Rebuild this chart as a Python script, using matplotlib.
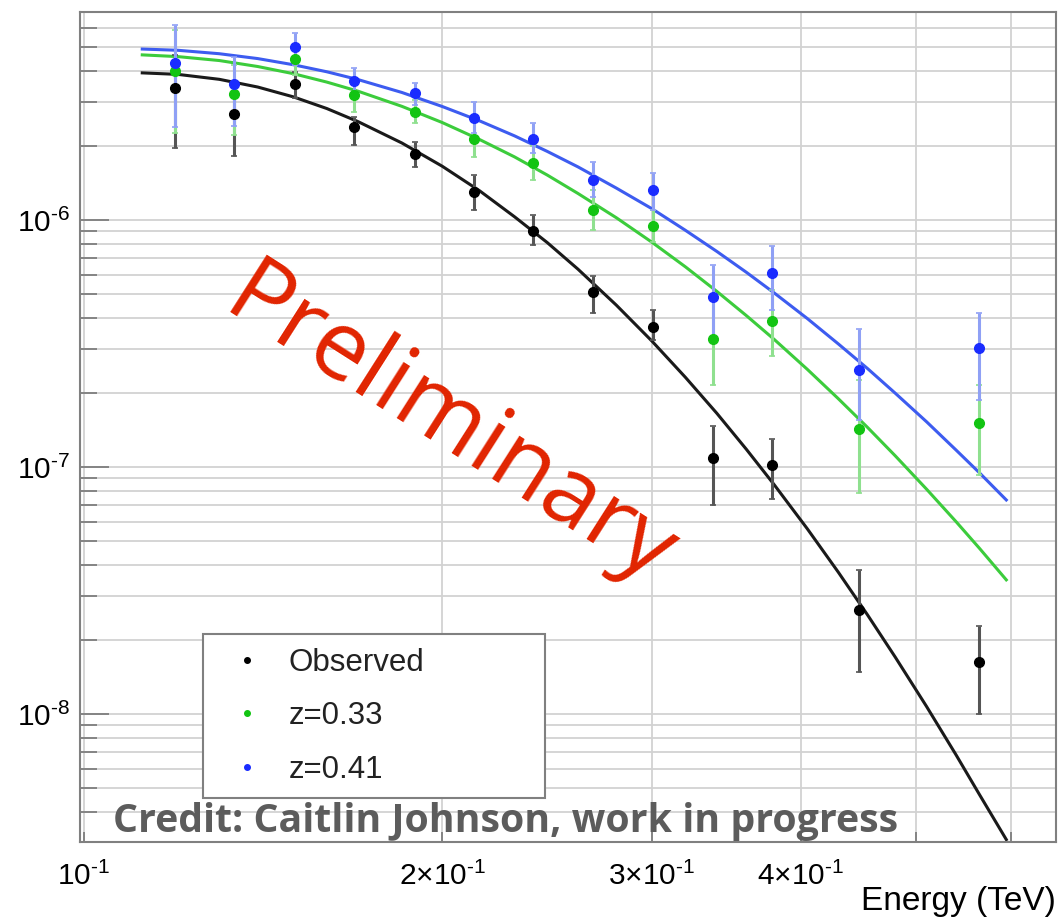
import numpy as np
import matplotlib.pyplot as plt
from matplotlib.lines import Line2D
from matplotlib.ticker import FixedLocator, FixedFormatter, NullFormatter, LogLocator, FuncFormatter

# bin energies (TeV)
energy = [0.1192, 0.1338, 0.1504, 0.1686, 0.1896, 0.2125, 0.2385,
          0.2677, 0.3005, 0.3373, 0.3786, 0.4478, 0.5642]

# observed spectrum with lower / upper error bar ends
obs_flux = [3.42e-6, 2.69e-6, 3.55e-6, 2.38e-6, 1.85e-6, 1.30e-6, 9.03e-7,
            5.11e-7, 3.69e-7, 1.09e-7, 1.02e-7, 2.64e-8, 1.62e-8]
obs_lo = [1.96e-6, 1.82e-6, 3.12e-6, 2.01e-6, 1.64e-6, 1.10e-6, 7.92e-7,
          4.20e-7, 3.27e-7, 7.02e-8, 7.42e-8, 1.48e-8, 1.00e-8]
obs_hi = [4.66e-6, 3.52e-6, 3.97e-6, 2.61e-6, 2.07e-6, 1.52e-6, 1.05e-6,
          5.93e-7, 4.32e-7, 1.47e-7, 1.30e-7, 3.83e-8, 2.27e-8]

# deabsorbed, z=0.33
z033_flux = [4.01e-6, 3.24e-6, 4.49e-6, 3.21e-6, 2.74e-6, 2.13e-6, 1.70e-6,
             1.10e-6, 9.46e-7, 3.30e-7, 3.90e-7, 1.43e-7, 1.51e-7]
z033_lo = [2.25e-6, 2.21e-6, 3.86e-6, 2.74e-6, 2.47e-6, 1.80e-6, 1.45e-6,
           9.11e-7, 8.15e-7, 2.15e-7, 2.81e-7, 7.85e-8, 9.29e-8]
z033_hi = [5.88e-6, 4.24e-6, 5.11e-6, 3.69e-6, 3.06e-6, 2.49e-6, 1.99e-6,
           1.32e-6, 1.10e-6, 4.74e-7, 5.21e-7, 2.25e-7, 2.15e-7]

# deabsorbed, z=0.41
z041_flux = [4.32e-6, 3.55e-6, 5.01e-6, 3.65e-6, 3.27e-6, 2.59e-6, 2.13e-6,
             1.45e-6, 1.32e-6, 4.88e-7, 6.10e-7, 2.47e-7, 3.03e-7]
z041_lo = [2.38e-6, 2.40e-6, 4.24e-6, 3.15e-6, 2.92e-6, 2.25e-6, 1.87e-6,
           1.24e-6, 1.10e-6, 3.27e-7, 4.32e-7, 1.55e-7, 1.87e-7]
z041_hi = [6.16e-6, 4.57e-6, 5.71e-6, 4.12e-6, 3.59e-6, 3.00e-6, 2.47e-6,
           1.72e-6, 1.55e-6, 6.57e-7, 7.85e-7, 3.62e-7, 4.20e-7]

# fitted spectra, sampled along energy
fit_energy = [0.112, 0.12, 0.13, 0.14, 0.15, 0.16, 0.17, 0.185, 0.20, 0.215,
              0.23, 0.245, 0.26, 0.28, 0.30, 0.32, 0.34, 0.36, 0.38, 0.405,
              0.43, 0.455, 0.48, 0.51, 0.54, 0.565, 0.595]
obs_fit = [3.94e-6, 3.885e-6, 3.71e-6, 3.453e-6, 3.15e-6, 2.826e-6, 2.50e-6,
           2.049e-6, 1.65e-6, 1.312e-6, 1.03e-6, 8.10e-7, 6.32e-7, 4.52e-7,
           3.23e-7, 2.306e-7, 1.65e-7, 1.179e-7, 8.46e-8, 5.62e-8, 3.75e-8,
           2.518e-8, 1.70e-8, 1.072e-8, 6.82e-9, 4.71e-9, 3.10e-9]
z033_fit = [4.66e-6, 4.585e-6, 4.42e-6, 4.181e-6, 3.91e-6, 3.616e-6, 3.32e-6,
            2.884e-6, 2.48e-6, 2.116e-6, 1.80e-6, 1.520e-6, 1.28e-6, 1.021e-6,
            8.12e-7, 6.46e-7, 5.14e-7, 4.10e-7, 3.28e-7, 2.485e-7, 1.89e-7,
            1.446e-7, 1.11e-7, 8.13e-8, 6.00e-8, 4.68e-8, 3.49e-8]
z041_fit = [4.92e-6, 4.864e-6, 4.71e-6, 4.502e-6, 4.25e-6, 3.981e-6, 3.70e-6,
            3.282e-6, 2.88e-6, 2.518e-6, 2.19e-6, 1.895e-6, 1.64e-6, 1.346e-6,
            1.11e-6, 9.08e-7, 7.46e-7, 6.14e-7, 5.06e-7, 3.99e-7, 3.15e-7,
            2.503e-7, 1.99e-7, 1.524e-7, 1.17e-7, 9.46e-8, 7.35e-8]

labels = ['Observed', 'z=0.33', 'z=0.41']
x_tick_vals = [0.1, 0.2, 0.3, 0.4]
x_tick_text = [r'$10^{\text{-}1}$', r'$2{\times}10^{\text{-}1}$',
               r'$3{\times}10^{\text{-}1}$', r'$4{\times}10^{\text{-}1}$']

plt.rcParams['font.family'] = ['Liberation Sans', 'DejaVu Sans']
plt.rcParams['mathtext.fontset'] = 'custom'
plt.rcParams['mathtext.rm'] = 'Liberation Sans'
plt.rcParams['mathtext.it'] = 'Liberation Sans:italic'
plt.rcParams['mathtext.bf'] = 'Liberation Sans:bold'

W, H = 1058, 918
fig = plt.figure(figsize=(W / 100, H / 100), dpi=100)
ax = fig.add_axes([80 / W, 1 - 842 / H, 976 / W, 830 / H])
ax.set_xscale('log')
ax.set_yscale('log')
ax.set_xlim(0.0993, 0.655)
ax.set_ylim(3.03e-9, 6.95e-6)

# grid + ticks, ROOT style
ax.xaxis.set_major_locator(FixedLocator(x_tick_vals))
ax.xaxis.set_major_formatter(FixedFormatter(x_tick_text))
ax.xaxis.set_minor_locator(FixedLocator([0.5, 0.6]))
ax.xaxis.set_minor_formatter(NullFormatter())
ax.yaxis.set_major_locator(LogLocator(base=10))
ax.yaxis.set_minor_locator(LogLocator(base=10, subs=np.arange(2, 10)))
ax.yaxis.set_major_formatter(FuncFormatter(
    lambda v, p: r'$10^{\text{-}%d}$' % abs(int(round(np.log10(v))))))
ax.yaxis.set_minor_formatter(NullFormatter())
ax.grid(which='both', color='#d2d2d2', lw=1.3, zorder=0)
ax.set_axisbelow(True)
ax.tick_params(axis='y', which='major', direction='in', length=21, width=1.2, color='#777777',
               labelsize=21.5, pad=7)
ax.tick_params(axis='y', which='minor', direction='in', length=12, width=1.2, color='#777777')
ax.tick_params(axis='x', which='both', direction='in', length=7, width=1.2, color='#777777',
               labelsize=21.5, pad=14)
for s in ax.spines.values():
    s.set_color('#808080')
    s.set_linewidth(1.5)

series = [
    (obs_flux, obs_lo, obs_hi, obs_fit, 'black', '#555555', '#1a1a1a'),
    (z033_flux, z033_lo, z033_hi, z033_fit, '#12c412', '#8fe08f', '#3ccc3c'),
    (z041_flux, z041_lo, z041_hi, z041_fit, '#1a2cff', '#8fa0f5', '#3d5cf0'),
]
for flux, lo, hi, fit, mcol, ecol, lcol in series:
    flux = np.array(flux)
    yerr = [flux - np.array(lo), np.array(hi) - flux]
    ax.plot(fit_energy, fit, color=lcol, lw=2.2, zorder=2)
    ax.errorbar(energy, flux, yerr=yerr, fmt='o', ms=7, mfc=mcol, mec=mcol,
                ecolor=ecol, elinewidth=2.2, capsize=2, capthick=1.2, zorder=3)

handles = [Line2D([], [], ls='none', marker='o', ms=4, color=s[4]) for s in series]
leg = ax.legend(handles, labels, loc='upper left', mode='expand',
                bbox_to_anchor=(203 / W, 1 - 792 / H, 342 / W, 158 / H),
                bbox_transform=fig.transFigure, borderaxespad=0,
                fontsize=22.5, frameon=True, fancybox=False, framealpha=1,
                edgecolor='#808080', borderpad=0.44, labelspacing=0.75,
                handlelength=1.94, handletextpad=0.36)
leg.get_frame().set_linewidth(1.5)
for t in leg.get_texts():
    t.set_color('#222222')

fig.text(1056 / W, 1 - 910 / H, 'Energy (TeV)', ha='right', va='baseline', fontsize=24)

fig.text(113 / W, 1 - 832 / H, 'Credit: Caitlin Johnson, work in progress',
         family=['Open Sans', 'DejaVu Sans'], fontweight='bold', fontsize=28.3,
         color='#5c5c5c', va='baseline')

fig.text(449 / W, 1 - 428 / H, 'Preliminary', rotation=-32.5, rotation_mode='anchor',
         ha='center', va='center', family=['Open Sans', 'DejaVu Sans'],
         fontsize=69, color='#e12400')

fig.savefig('out.png', dpi=100)
